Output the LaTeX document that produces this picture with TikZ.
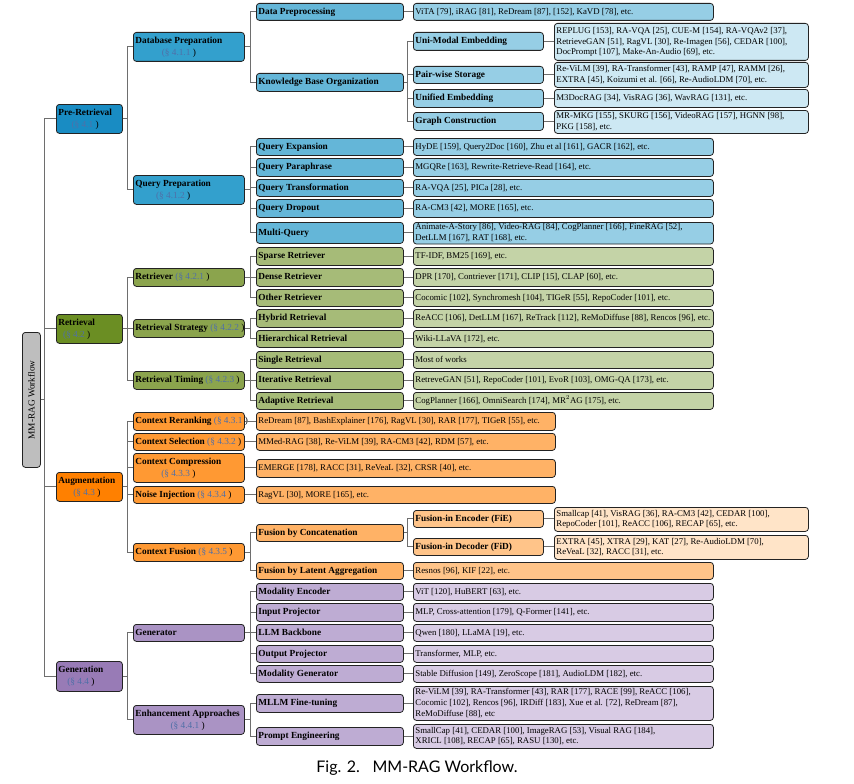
\documentclass[tikz,border=0pt]{standalone}
\usepackage{fontspec}
\setmainfont{Liberation Serif}
\newfontfamily\capfont{Lato}
\usetikzlibrary{calc}
\definecolor{b1}{RGB}{25,140,195}
\definecolor{b2}{RGB}{51,160,205}
\definecolor{b3}{RGB}{100,182,216}
\definecolor{b4}{RGB}{150,206,229}
\definecolor{b5}{RGB}{205,232,243}
\definecolor{g1}{RGB}{107,142,35}
\definecolor{g2}{RGB}{139,164,77}
\definecolor{g3}{RGB}{166,187,120}
\definecolor{g4}{RGB}{196,211,167}
\definecolor{o1}{RGB}{255,128,0}
\definecolor{o2}{RGB}{255,153,51}
\definecolor{o3}{RGB}{255,178,102}
\definecolor{o4}{RGB}{255,196,137}
\definecolor{o5}{RGB}{255,228,200}
\definecolor{p1}{RGB}{152,123,182}
\definecolor{p2}{RGB}{170,147,196}
\definecolor{p3}{RGB}{190,172,211}
\definecolor{p4}{RGB}{216,203,228}
\definecolor{rootc}{RGB}{190,190,190}
\definecolor{bordc}{RGB}{35,35,35}
\definecolor{connc}{RGB}{110,110,110}
\definecolor{linkc}{RGB}{80,112,168}
\newcommand{\sref}[1]{{\mdseries\textcolor{linkc}{(\S~#1}~)}}
\newcommand{\twol}[2]{\begin{tabular}{@{}c@{}}#1\\[1.2pt]#2\end{tabular}}
\tikzset{
  box/.style={draw=bordc, line width=0.8pt, rounded corners=3pt, anchor=north west,
    inner xsep=2pt, inner ysep=0pt, align=left, font=\fontsize{8.8}{10.8}\selectfont},
  nm/.style={font=\fontsize{9.3}{10.8}\selectfont\bfseries},
  conn/.style={draw=connc, line width=1pt}
}
\newcommand{\B}[7]{%
  \pgfmathsetmacro\bw{#5-#3}\pgfmathsetmacro\bh{#6-#4}\pgfmathsetmacro\tw{#5-#3-4}%
  \node[box,#1,minimum width=\bw pt,minimum height=\bh pt] (#2) at (#3,#4)
    {\makebox[\tw pt][l]{\begin{tabular}{@{}l@{}}#7\end{tabular}}};}
\newcommand{\T}[3]{\draw[conn] (#1.east) -- ++(#3,0) |- (#2.west);}
\newcommand{\Lf}[2]{\draw[conn] (#1.east) -- (#1.east -| #2.west);}
\begin{document}
\begin{tikzpicture}[x=1pt,y=-1pt]
\useasboundingbox (0,0) rectangle (854,784);
% root
\node[box, fill=rootc, minimum width=18pt, minimum height=135pt, inner sep=0pt] (root) at (22,332) {};
\node[rotate=90, font=\fontsize{9.3}{10.8}\selectfont] (roottxt) at (root.center) {MM-RAG Workflow};
% level 1
\B{fill=b1,nm}{pre}{56}{104}{122}{133}{\twol{Pre-Retrieval}{\sref{4.1}}}
\B{fill=g1,nm}{retr}{56}{314}{122}{343}{\twol{Retrieval}{\sref{4.2}}}
\B{fill=o1,nm}{aug}{56}{472}{122}{501}{\twol{Augmentation}{\sref{4.3}}}
\B{fill=p1,nm}{gen}{56}{661}{122}{691}{\twol{Generation}{\sref{4.4}}}
% ---------- Pre-Retrieval
\B{fill=b2,nm}{dbp}{133}{32}{244}{61}{\twol{Database Preparation}{\sref{4.1.1}}}
\B{fill=b2,nm}{qp}{133}{175}{244}{204}{\twol{Query Preparation}{\sref{4.1.2}}}
\B{fill=b3,nm}{dpp}{256}{3}{403}{20}{Data Preprocessing}
\B{fill=b4}{dppl}{413}{3}{713}{20}{ViTA [79], iRAG [81], ReDream [87], [152], KaVD [78], etc.}
\B{fill=b3,nm}{kbo}{256}{73}{403}{91}{Knowledge Base Organization}
\B{fill=b4,nm}{ume}{413}{32}{543}{50}{Uni-Modal Embedding}
\B{fill=b5}{umel}{554}{23}{808}{60}{REPLUG [153], RA-VQA [25], CUE-M [154], RA-VQAv2 [37],\\RetrieveGAN [51], RagVL [30], Re-Imagen [56], CEDAR [100],\\DocPrompt [107], Make-An-Audio [69], etc.}
\B{fill=b4,nm}{pws}{413}{66}{543}{83}{Pair-wise Storage}
\B{fill=b5}{pwsl}{554}{62}{808}{87}{Re-ViLM [39], RA-Transformer [43], RAMP [47], RAMM [26],\\EXTRA [45], Koizumi et al. [66], Re-AudioLDM [70], etc.}
\B{fill=b4,nm}{ue}{413}{89}{543}{107}{Unified Embedding}
\B{fill=b5}{uel}{554}{89}{808}{107}{M3DocRAG [34], VisRAG [36], WavRAG [131], etc.}
\B{fill=b4,nm}{gc}{413}{112}{543}{130}{Graph Construction}
\B{fill=b5}{gcl}{554}{110}{808}{133}{MR-MKG [155], SKURG [156], VideoRAG [157], HGNN [98],\\PKG [158], etc.}
\B{fill=b3,nm}{qe}{256}{138}{403}{155}{Query Expansion}
\B{fill=b4}{qel}{413}{138}{713}{155}{HyDE [159], Query2Doc [160], Zhu et al [161], GACR [162], etc.}
\B{fill=b3,nm}{qpa}{256}{158}{403}{176}{Query Paraphrase}
\B{fill=b4}{qpal}{413}{158}{713}{176}{MGQRe [163], Rewrite-Retrieve-Read [164], etc.}
\B{fill=b3,nm}{qt}{256}{179}{403}{196}{Query Transformation}
\B{fill=b4}{qtl}{413}{179}{713}{196}{RA-VQA [25], PICa [28], etc.}
\B{fill=b3,nm}{qd}{256}{199}{403}{217}{Query Dropout}
\B{fill=b4}{qdl}{413}{199}{713}{217}{RA-CM3 [42], MORE [165], etc.}
\B{fill=b3,nm}{mq}{256}{222}{403}{243}{Multi-Query}
\B{fill=b4}{mql}{413}{222}{713}{243}{Animate-A-Story [86], Video-RAG [84], CogPlanner [166], FineRAG [52],\\DetLLM [167], RAT [168], etc.}
% ---------- Retrieval
\B{fill=g2,nm}{rtv}{133}{268}{244}{286}{Retriever \sref{4.2.1}}
\B{fill=g2,nm}{rst}{133}{319}{244}{337}{Retrieval Strategy \sref{4.2.2}}
\B{fill=g2,nm}{rti}{133}{371}{244}{389}{Retrieval Timing \sref{4.2.3}}
\B{fill=g3,nm}{spr}{256}{247}{403}{265}{Sparse Retriever}
\B{fill=g4}{sprl}{413}{247}{713}{265}{TF-IDF, BM25 [169], etc.}
\B{fill=g3,nm}{dnr}{256}{268}{403}{286}{Dense Retriever}
\B{fill=g4}{dnrl}{413}{268}{713}{286}{DPR [170], Contriever [171], CLIP [15], CLAP [60], etc.}
\B{fill=g3,nm}{otr}{256}{289}{403}{306}{Other Retriever}
\B{fill=g4}{otrl}{413}{289}{713}{306}{Cocomic [102], Synchromesh [104], TIGeR [55], RepoCoder [101], etc.}
\B{fill=g3,nm}{hyr}{256}{309}{403}{327}{Hybrid Retrieval}
\B{fill=g4}{hyrl}{413}{309}{713}{327}{ReACC [106], DetLLM [167], ReTrack [112], ReMoDiffuse [88], Rencos [96], etc.}
\B{fill=g3,nm}{hir}{256}{330}{403}{347}{Hierarchical Retrieval}
\B{fill=g4}{hirl}{413}{330}{713}{347}{Wiki-LLaVA [172], etc.}
\B{fill=g3,nm}{sir}{256}{351}{403}{368}{Single Retrieval}
\B{fill=g4}{sirl}{413}{351}{713}{368}{Most of works}
\B{fill=g3,nm}{itr}{256}{371}{403}{389}{Iterative Retrieval}
\B{fill=g4}{itrl}{413}{371}{713}{389}{RetreveGAN [51], RepoCoder [101], EvoR [103], OMG-QA [173], etc.}
\B{fill=g3,nm}{adr}{256}{392}{403}{409}{Adaptive Retrieval}
\B{fill=g4}{adrl}{413}{392}{713}{409}{CogPlanner [166], OmniSearch [174], MR$^2$AG [175], etc.}
% ---------- Augmentation
\B{fill=o2,nm}{crr}{133}{412}{244}{430}{Context Reranking \sref{4.3.1}}
\B{fill=o3}{crrl}{256}{412}{555}{430}{ReDream [87], BashExplainer [176], RagVL [30], RAR [177], TIGeR [55], etc.}
\B{fill=o2,nm}{css}{133}{433}{244}{450}{Context Selection \sref{4.3.2}}
\B{fill=o3}{cssl}{256}{433}{555}{450}{MMed-RAG [38], Re-ViLM [39], RA-CM3 [42], RDM [57], etc.}
\B{fill=o2,nm}{ccp}{133}{453}{244}{482}{\twol{Context Compression}{\sref{4.3.3}}}
\B{fill=o3}{ccpl}{256}{459}{555}{477}{EMERGE [178], RACC [31], ReVeaL [32], CRSR [40], etc.}
\B{fill=o2,nm}{noi}{133}{486}{244}{503}{Noise Injection \sref{4.3.4}}
\B{fill=o3}{noil}{256}{486}{555}{503}{RagVL [30], MORE [165], etc.}
\B{fill=o2,nm}{cfu}{133}{543}{244}{561}{Context Fusion \sref{4.3.5}}
\B{fill=o3,nm}{fbc}{256}{524}{403}{541}{Fusion by Concatenation}
\B{fill=o4,nm}{fie}{413}{510}{543}{527}{Fusion-in Encoder (FiE)}
\B{fill=o5}{fiel}{554}{507}{808}{531}{Smallcap [41], VisRAG [36], RA-CM3 [42], CEDAR [100],\\RepoCoder [101], ReACC [106], RECAP [65], etc.}
\B{fill=o4,nm}{fid}{413}{538}{543}{555}{Fusion-in Decoder (FiD)}
\B{fill=o5}{fidl}{554}{535}{808}{559}{EXTRA [45], XTRA [29], KAT [27], Re-AudioLDM [70],\\ReVeaL [32], RACC [31], etc.}
\B{fill=o3,nm}{fla}{256}{562}{403}{579}{Fusion by Latent Aggregation}
\B{fill=o4}{flal}{413}{562}{713}{579}{Resnos [96], KIF [22], etc.}
% ---------- Generation
\B{fill=p2,nm}{gtr}{133}{624}{244}{641}{Generator}
\B{fill=p2,nm}{enh}{133}{705}{244}{734}{\twol{Enhancement Approaches}{\sref{4.4.1}}}
\B{fill=p3,nm}{mde}{256}{583}{403}{600}{Modality Encoder}
\B{fill=p4}{mdel}{413}{583}{713}{600}{ViT [120], HuBERT [63], etc.}
\B{fill=p3,nm}{inp}{256}{603}{403}{621}{Input Projector}
\B{fill=p4}{inpl}{413}{603}{713}{621}{MLP, Cross-attention [179], Q-Former [141], etc.}
\B{fill=p3,nm}{llm}{256}{624}{403}{641}{LLM Backbone}
\B{fill=p4}{llml}{413}{624}{713}{641}{Qwen [180], LLaMA [19], etc.}
\B{fill=p3,nm}{outp}{256}{645}{403}{662}{Output Projector}
\B{fill=p4}{outpl}{413}{645}{713}{662}{Transformer, MLP, etc.}
\B{fill=p3,nm}{mdg}{256}{665}{403}{682}{Modality Generator}
\B{fill=p4}{mdgl}{413}{665}{713}{682}{Stable Diffusion [149], ZeroScope [181], AudioLDM [182], etc.}
\B{fill=p3,nm}{mft}{256}{694}{403}{712}{MLLM Fine-tuning}
\B{fill=p4}{mftl}{413}{686}{713}{720}{Re-ViLM [39], RA-Transformer [43], RAR [177], RACE [99], ReACC [106],\\Cocomic [102], Rencos [96], IRDiff [183], Xue et al. [72], ReDream [87],\\ReMoDiffuse [88], etc}
\B{fill=p3,nm}{pen}{256}{727}{403}{745}{Prompt Engineering}
\B{fill=p4}{penl}{413}{724}{713}{748}{SmallCap [41], CEDAR [100], ImageRAG [53], Visual RAG [184],\\XRICL [108], RECAP [65], RASU [130], etc.}
% ---------- connectors
\foreach \c in {pre,retr,aug,gen} {\T{root}{\c}{4}}
\foreach \c in {dbp,qp} {\T{pre}{\c}{5}}
\foreach \c in {rtv,rst,rti} {\T{retr}{\c}{5}}
\foreach \c in {crr,css,ccp,noi,cfu} {\T{aug}{\c}{5}}
\foreach \c in {gtr,enh} {\T{gen}{\c}{5}}
\foreach \c in {dpp,kbo} {\T{dbp}{\c}{6}}
\foreach \c in {qe,qpa,qt,qd,mq} {\T{qp}{\c}{6}}
\foreach \c in {spr,dnr,otr} {\T{rtv}{\c}{6}}
\foreach \c in {hyr,hir} {\T{rst}{\c}{6}}
\foreach \c in {sir,itr,adr} {\T{rti}{\c}{6}}
\foreach \c in {fbc,fla} {\T{cfu}{\c}{6}}
\foreach \c in {mde,inp,llm,outp,mdg} {\T{gtr}{\c}{6}}
\foreach \c in {mft,pen} {\T{enh}{\c}{6}}
\foreach \c in {ume,pws,ue,gc} {\T{kbo}{\c}{4}}
\foreach \c in {fie,fid} {\T{fbc}{\c}{4}}
\foreach \a/\b in {dpp/dppl,ume/umel,pws/pwsl,ue/uel,gc/gcl,qe/qel,qpa/qpal,qt/qtl,qd/qdl,mq/mql,
  spr/sprl,dnr/dnrl,otr/otrl,hyr/hyrl,hir/hirl,sir/sirl,itr/itrl,adr/adrl,
  crr/crrl,css/cssl,ccp/ccpl,noi/noil,fie/fiel,fid/fidl,fla/flal,
  mde/mdel,inp/inpl,llm/llml,outp/outpl,mdg/mdgl,mft/mftl,pen/penl} {\Lf{\a}{\b}}
% caption
\node[font=\capfont\fontsize{16}{19}\selectfont, anchor=base] (cap) at (417,772) {Fig. 2.\hspace{0.45em} MM-RAG Workflow.};
\end{tikzpicture}
\end{document}
